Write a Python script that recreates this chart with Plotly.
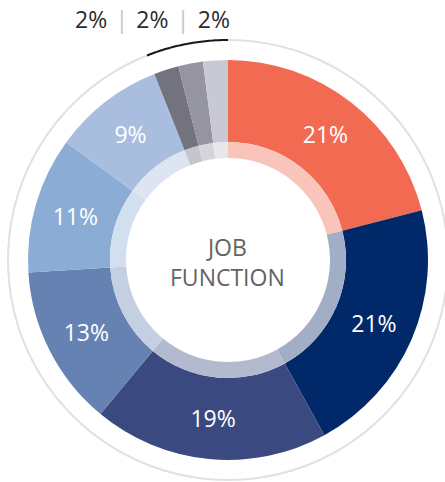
import math
import plotly.graph_objects as go

# ---- data ----
categories = ["Function A", "Function B", "Function C", "Function D", "Function E",
              "Function F", "Function G", "Function H", "Function I"]
values = [21, 21, 19, 13, 11, 9, 2, 2, 2]
colors = ["#F26A52", "#012969", "#3A4A80", "#6682B2", "#8BACD4", "#A9BEDF",
          "#73737F", "#9594A1", "#C9C9D4"]
inner_colors = ["#F9C4BA", "#A2AEC6", "#B3B9CF", "#C4CFE1", "#D2DFEE", "#DDE5F2",
                "#C5C5CC", "#D4D4DA", "#E7E7EC"]
small_count = 3  # last slices labelled at the top
center_lines = ["JOB", "FUNCTION"]

W, H = 445, 482
OFF = 0  # page body margin (removed via post_script)
CX, CY = 228, 260
R_OUT, R_MID, R_IN, R_RING = 200, 118, 102, 220
FONT = "Open Sans, Lato, sans-serif"


def px2x(px):
    return (px - OFF) / W


def px2y(py):
    return 1 - (py - OFF) / H


def dom(r):
    return dict(x=[px2x(CX - r), px2x(CX + r)], y=[px2y(CY + r), px2y(CY - r)])


texts = [f"{v}%" for v in values[:-small_count]] + [""] * small_count

fig = go.Figure()
fig.add_trace(go.Pie(
    labels=categories, values=values, sort=False, direction="clockwise", rotation=0,
    hole=R_MID / R_OUT, domain=dom(R_OUT),
    marker=dict(colors=colors, line=dict(width=0)),
    text=texts, textinfo="text", textposition="inside",
    insidetextorientation="horizontal",
    textfont=dict(color="white", size=23, family=FONT),
    showlegend=False, hoverinfo="label+percent",
))
fig.add_trace(go.Pie(
    labels=categories, values=values, sort=False, direction="clockwise", rotation=0,
    hole=R_IN / R_MID, domain=dom(R_MID),
    marker=dict(colors=inner_colors, line=dict(width=0)),
    textinfo="none", showlegend=False, hoverinfo="skip",
))

# outer thin ring
fig.add_shape(type="circle", xref="paper", yref="paper",
              x0=px2x(CX - R_RING), x1=px2x(CX + R_RING),
              y0=px2y(CY + R_RING), y1=px2y(CY - R_RING),
              line=dict(color="#DCE2E7", width=2), layer="below")

# black arc over the small slices
total = sum(values)
frac = sum(values[-small_count:]) / total
n = 40
pts = []
for i in range(n + 1):
    a = -2 * math.pi * frac * i / n
    px = CX + R_RING * math.sin(a)
    py = CY - R_RING * math.cos(a)
    pts.append((px2x(px), px2y(py)))
path = "M " + " L ".join(f"{x:.5f},{y:.5f}" for x, y in pts)
fig.add_shape(type="path", xref="paper", yref="paper", path=path,
              line=dict(color="#1A1A1A", width=2))

sep = " \u200a<span style='color:#C4C4C4'>|</span>\u200a "
small_label = sep.join(f"{v}%" for v in values[-small_count:])
fig.add_annotation(text=small_label, xref="paper", yref="paper",
                   x=px2x(152), y=px2y(19), xanchor="center", yanchor="middle",
                   showarrow=False, borderpad=0,
                   font=dict(size=23, color="#2B2B2B", family=FONT))

fig.add_annotation(text="<br>".join(center_lines), xref="paper", yref="paper",
                   x=px2x(CX), y=px2y(262), xanchor="center", yanchor="middle",
                   showarrow=False, borderpad=0,
                   font=dict(size=23, color="#636363", family=FONT))

fig.update_layout(width=W, height=H, autosize=False,
                  margin=dict(l=0, r=0, t=0, b=0),
                  paper_bgcolor="white", plot_bgcolor="white")
fig.write_html("out.html", config={"displayModeBar": False},
               post_script="document.body.style.margin='0px';")
